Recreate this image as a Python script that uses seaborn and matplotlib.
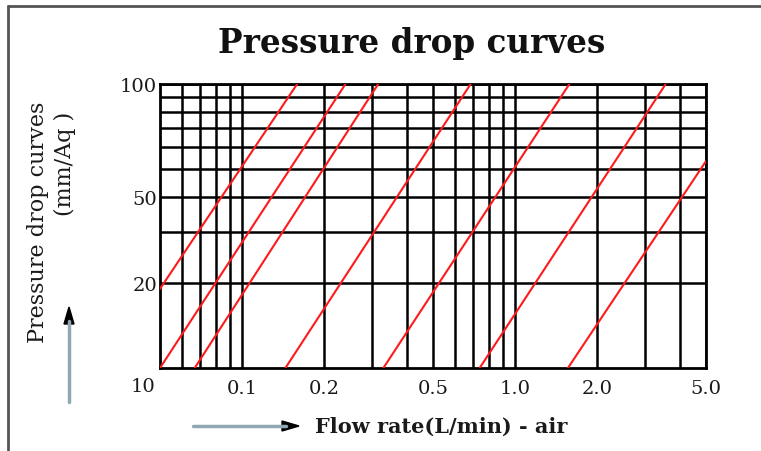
import numpy as np
import pandas as pd
import matplotlib
matplotlib.use("Agg")
import matplotlib.pyplot as plt
import seaborn as sns

# ---- data ----
curve_ids = ["A", "B", "C", "D", "E", "F", "G"]
flow_start = [0.05, 0.05, 0.067, 0.144, 0.329, 0.741, 1.56]   # L/min
drop_start = [19.0, 10.0, 10.0, 10.0, 10.0, 10.0, 10.0]      # mm/Aq
flow_end = [0.159, 0.239, 0.315, 0.687, 1.58, 3.56, 5.0]
drop_end = [100.0, 100.0, 100.0, 100.0, 100.0, 100.0, 53.5]

x_major = [0.1, 0.2, 0.5, 1.0, 2.0, 5.0]
x_major_labels = ["0.1", "0.2", "0.5", "1.0", "2.0", "5.0"]
x_minor = [0.06, 0.07, 0.08, 0.09, 0.3, 0.4, 0.6, 0.7, 0.8, 0.9, 3.0, 4.0]
y_major = [20, 40, 100]
y_major_labels = ["20", "50", "100"]
y_minor = [30, 50, 60, 70, 80, 90]
corner_label = "10"

rows = []
for cid, x0, y0, x1, y1 in zip(curve_ids, flow_start, drop_start, flow_end, drop_end):
    rows.append({"curve": cid, "flow": x0, "drop": y0})
    rows.append({"curve": cid, "flow": x1, "drop": y1})
df = pd.DataFrame(rows)

sns.set_theme(style="white")
plt.rcParams["font.family"] = ["DejaVu Serif", "Liberation Serif"]

fig = plt.figure(figsize=(7.61, 4.52), dpi=100)
ax = fig.add_axes([160 / 761, 1 - 369 / 452, 546 / 761, 284 / 452])

sns.lineplot(data=df, x="flow", y="drop", units="curve", estimator=None,
             color="#ff1a1a", linewidth=1.5, ax=ax, sort=False, zorder=3)

ax.set_xscale("log")
ax.set_yscale("log")
ax.set_xlim(0.05, 5.0)
ax.set_ylim(10, 100)

ax.set_xticks(x_major)
ax.set_xticklabels(x_major_labels)
ax.set_xticks(x_minor, minor=True)
ax.set_xticklabels([], minor=True)
ax.set_yticks(y_major)
ax.set_yticklabels(y_major_labels)
ax.set_yticks(y_minor, minor=True)
ax.set_yticklabels([], minor=True)

ax.grid(True, which="both", color="black", linewidth=1.8)
ax.tick_params(which="both", length=0)
ax.tick_params(axis="x", pad=8, labelsize=14, labelcolor="#1a1a1a")
ax.tick_params(axis="y", pad=2, labelsize=14, labelcolor="#1a1a1a")
for s in ax.spines.values():
    s.set_color("black")
    s.set_linewidth(2)
ax.set_xlabel("")
ax.set_ylabel("")

# corner label under the axes origin
fig.text(143 / 761, 1 - 387 / 452, corner_label, ha="center", va="center",
         fontsize=14, color="#1a1a1a")

# title
fig.text(412 / 761, 1 - 44 / 452, "Pressure drop curves", ha="center", va="center",
         fontsize=23.5, fontweight="bold", color="#111111")

# y label
fig.text(38 / 761, 1 - 222 / 452, "Pressure drop curves", rotation=90,
         ha="center", va="center", fontsize=16, color="#1a1a1a")
fig.text(65 / 761, 1 - 164 / 452, "(mm/Aq )", rotation=90,
         ha="center", va="center", fontsize=16, color="#1a1a1a")

# x label
fig.text(315 / 761, 1 - 427 / 452, "Flow rate(L/min) - air", ha="left", va="center",
         fontsize=15, fontweight="bold", color="#1a1a1a")

# arrows
fig.add_artist(matplotlib.lines.Line2D([193 / 761, 286 / 761], [1 - 427 / 452, 1 - 427 / 452],
                                       color="#8fa9b3", linewidth=2.5, transform=fig.transFigure))
fig.patches.append(matplotlib.patches.Polygon(
    [[282 / 761, 1 - 422 / 452], [299 / 761, 1 - 427 / 452], [282 / 761, 1 - 432 / 452]],
    closed=True, color="black", transform=fig.transFigure, figure=fig))
fig.add_artist(matplotlib.lines.Line2D([69 / 761, 69 / 761], [1 - 403 / 452, 1 - 322 / 452],
                                       color="#8fa9b3", linewidth=2.5, transform=fig.transFigure))
fig.patches.append(matplotlib.patches.Polygon(
    [[64 / 761, 1 - 325 / 452], [69 / 761, 1 - 308 / 452], [74 / 761, 1 - 325 / 452]],
    closed=True, color="black", transform=fig.transFigure, figure=fig))

# outer frame (top and left)
fig.add_artist(matplotlib.lines.Line2D([8 / 761, 8 / 761], [0, 1 - 7 / 452],
                                       color="#555555", linewidth=2, transform=fig.transFigure))
fig.add_artist(matplotlib.lines.Line2D([8 / 761, 1], [1 - 7 / 452, 1 - 7 / 452],
                                       color="#555555", linewidth=2, transform=fig.transFigure))

fig.savefig("out.png", dpi=100, facecolor="white")
